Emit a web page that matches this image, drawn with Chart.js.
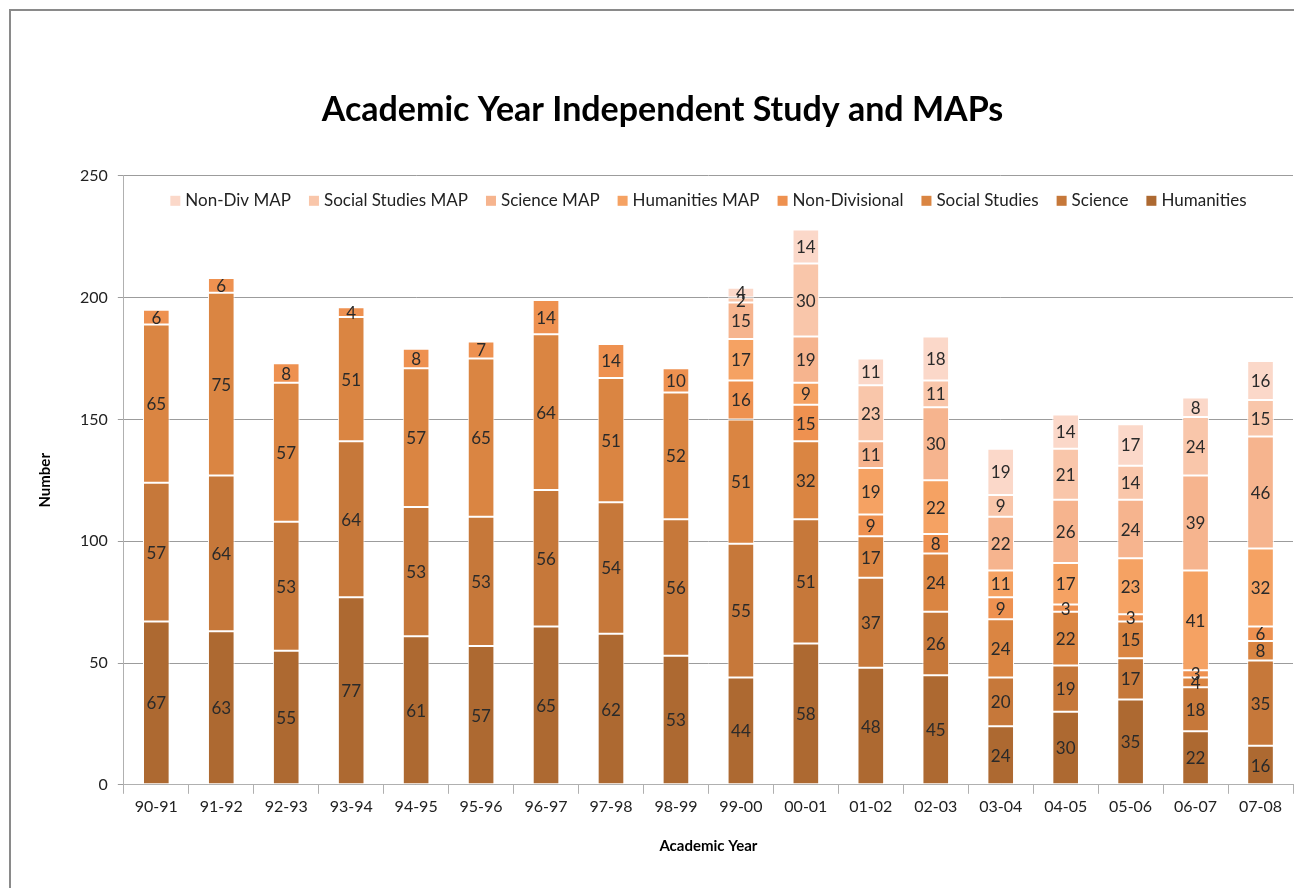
<!DOCTYPE html>
<html>
<head>
<meta charset="utf-8">
<title>Academic Year Independent Study and MAPs</title>
<script src="https://cdn.jsdelivr.net/npm/chart.js@4.4.1/dist/chart.umd.min.js"></script>
<style>
  html, body { margin: 0; padding: 0; background: #fff; overflow: hidden; }
  #frame { position: absolute; left: 9px; top: 9px; width: 1300px; height: 900px;
           border-left: 2px solid #8a8a8a; border-top: 2px solid #8a8a8a; }
  #wrap { position: absolute; left: 0; top: 0; width: 1294px; height: 888px; }
</style>
</head>
<body>
<div id="frame"></div>
<div id="wrap"><canvas id="barChart"></canvas></div>
<script>
const years = ["90-91", "91-92", "92-93", "93-94", "94-95", "95-96", "96-97", "97-98", "98-99",
  "99-00", "00-01", "01-02", "02-03", "03-04", "04-05", "05-06", "06-07", "07-08"];

const humanities     = [67, 63, 55, 77, 61, 57, 65, 62, 53, 44, 58, 48, 45, 24, 30, 35, 22, 16];
const science        = [57, 64, 53, 64, 53, 53, 56, 54, 56, 55, 51, 37, 26, 20, 19, 17, 18, 35];
const socialStudies  = [65, 75, 57, 51, 57, 65, 64, 51, 52, 51, 32, 17, 24, 24, 22, 15, 4, 8];
const nonDivisional  = [6, 6, 8, 4, 8, 7, 14, 14, 10, 16, 15, 9, 8, 9, 3, 3, 3, 6];
const humanitiesMap  = [null, null, null, null, null, null, null, null, null, 17, 9, 19, 22, 11, 17, 23, 41, 32];
const scienceMap     = [null, null, null, null, null, null, null, null, null, 15, 19, 11, 30, 22, 26, 24, 39, 46];
const socialMap      = [null, null, null, null, null, null, null, null, null, 2, 30, 23, 11, 9, 21, 14, 24, 15];
const nonDivMap      = [null, null, null, null, null, null, null, null, null, 4, 14, 11, 18, 19, 14, 17, 8, 16];

const seriesNames = ["Humanities", "Science", "Social Studies", "Non-Divisional",
  "Humanities MAP", "Science MAP", "Social Studies MAP", "Non-Div MAP"];
const seriesData = [humanities, science, socialStudies, nonDivisional,
  humanitiesMap, scienceMap, socialMap, nonDivMap];
const seriesColors = ["#ad6931", "#c6783a", "#da8542", "#ee9150",
  "#f5a263", "#f6b48e", "#f9c6aa", "#fbd8c9"];

const yTicks = [0, 50, 100, 150, 200, 250];

const FONT = "Lato, 'Open Sans', sans-serif";

// writes each segment's value in the middle of the segment
const segmentLabels = {
  id: "segmentLabels",
  afterDatasetsDraw(chart) {
    const ctx = chart.ctx;
    ctx.save();
    ctx.font = "17px " + FONT;
    ctx.fillStyle = "#2a2a2a";
    ctx.textAlign = "center";
    ctx.textBaseline = "middle";
    chart.data.datasets.forEach((ds, i) => {
      const meta = chart.getDatasetMeta(i);
      meta.data.forEach((bar, j) => {
        const v = ds.data[j];
        if (v == null || v === 0) return;
        ctx.fillText(String(v), bar.x, (bar.y + bar.base) / 2 + 1);
      });
    });
    ctx.restore();
  }
};

// one-row legend drawn inside the top of the plot, last series first
const insideLegend = {
  id: "insideLegend",
  afterDraw(chart) {
    const ctx = chart.ctx;
    const area = chart.chartArea;
    const box = 10, gap = 5, itemGap = 18;
    ctx.save();
    ctx.font = "17px " + FONT;
    ctx.textBaseline = "middle";
    const items = chart.data.datasets.map(ds => ({ text: ds.label, color: ds.backgroundColor })).reverse();
    const widths = items.map(it => box + gap + ctx.measureText(it.text).width);
    const total = widths.reduce((a, b) => a + b, 0) + itemGap * (items.length - 1);
    let x = (area.left + area.right) / 2 - total / 2;
    const y = area.top + 25;
    items.forEach((it, k) => {
      ctx.fillStyle = it.color;
      ctx.fillRect(x, y - box / 2, box, box);
      ctx.fillStyle = "#222";
      ctx.textAlign = "left";
      ctx.fillText(it.text, x + box + gap, y);
      x += widths[k] + itemGap;
    });
    ctx.restore();
  }
};

let barChartInstance;

function renderBarChart() {
  const ctx = document.getElementById("barChart").getContext("2d");

  if (barChartInstance) {
    barChartInstance.destroy();
  }

  barChartInstance = new Chart(ctx, {
    type: "bar",
    data: {
      labels: years,
      datasets: seriesNames.map((name, i) => ({
        label: name,
        data: seriesData[i],
        backgroundColor: seriesColors[i],
        borderColor: "#ffffff",
        borderWidth: 1,
        borderSkipped: false,
        barPercentage: 0.41,
        categoryPercentage: 1
      }))
    },
    options: {
      responsive: true,
      maintainAspectRatio: false,
      animation: false,
      layout: { padding: { left: 32, right: 1, top: 0, bottom: 29 } },
      plugins: {
        title: {
          display: true,
          text: "Academic Year Independent Study and MAPs",
          color: "#000",
          font: { family: FONT, size: 34, weight: "bold" },
          padding: { top: 90, bottom: 45 }
        },
        legend: { display: false },
        tooltip: { enabled: false }
      },
      scales: {
        x: {
          stacked: true,
          grid: {
            offset: true,
            drawOnChartArea: false,
            drawTicks: true,
            tickLength: 9,
            color: "#b0b0b0"
          },
          border: { color: "#b0b0b0" },
          ticks: { color: "#222", font: { family: FONT, size: 16 }, padding: 3 },
          title: {
            display: true,
            text: "Academic Year",
            color: "#000",
            font: { family: FONT, size: 15, weight: "bold" },
            padding: { top: 18 }
          }
        },
        y: {
          stacked: true,
          min: 0,
          max: 250,
          afterBuildTicks(axis) {
            axis.ticks = yTicks.map(v => ({ value: v }));
          },
          grid: { color: "#9c9c9c", tickLength: 6 },
          border: { color: "#b0b0b0" },
          ticks: { color: "#222", font: { family: FONT, size: 16 }, padding: 10 },
          title: {
            display: true,
            text: "Number",
            color: "#000",
            font: { family: FONT, size: 15, weight: "bold" },
            padding: { bottom: 16 }
          }
        }
      }
    },
    plugins: [segmentLabels, insideLegend]
  });
}

renderBarChart();
</script>
</body>
</html>
